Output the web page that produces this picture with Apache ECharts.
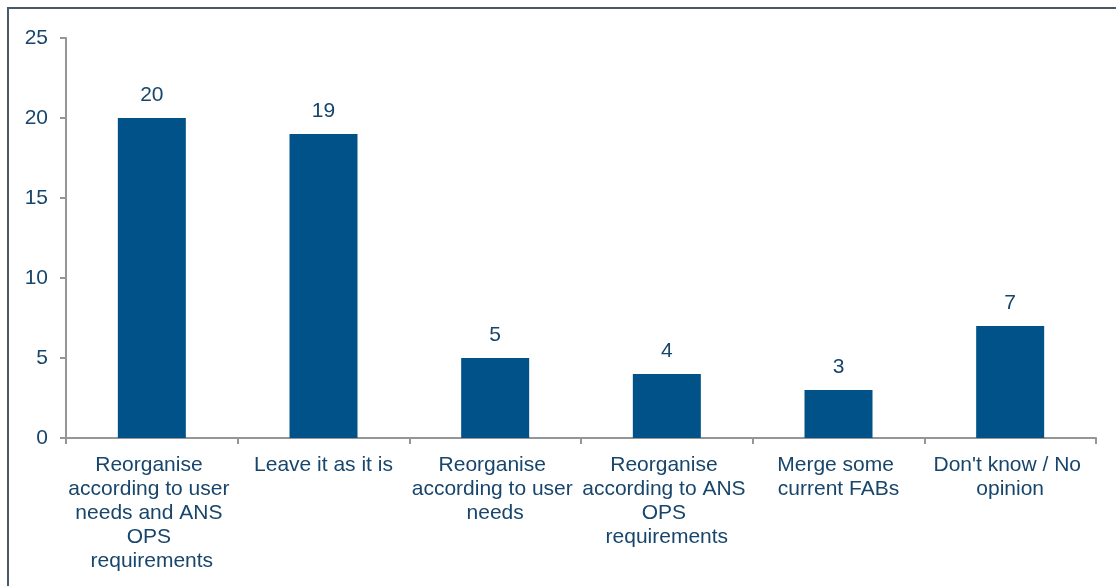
<!DOCTYPE html>
<html>
<head>
<meta charset="utf-8">
<script src="https://cdn.jsdelivr.net/npm/echarts@6/dist/echarts.min.js"></script>
<style>
html,body{margin:0;padding:0;background:#fff;}
#wrap{position:relative;width:1116px;height:586px;overflow:hidden;}
#frame{position:absolute;left:7px;top:7px;width:1200px;height:700px;border-left:2px solid #4b5866;border-top:2px solid #4b5866;box-sizing:border-box;}
#chart{position:absolute;left:0;top:0;width:1116px;height:586px;}
</style>
</head>
<body>
<div id="wrap">
<div id="frame"></div>
<div id="chart"></div>
</div>
<script>
const categories = [
  "Reorganise according to user needs and ANS OPS requirements",
  "Leave it as it is",
  "Reorganise according to user needs",
  "Reorganise according to ANS OPS requirements",
  "Merge some current FABs",
  "Don't know / No opinion"
];
const values = [20, 19, 5, 4, 3, 7];
const yTicks = { min: 0, max: 25, interval: 5 };

const textColor = '#17456b';
const axisColor = '#969696';
const font = 'Arial, "Liberation Sans", sans-serif';

const chart = echarts.init(document.getElementById('chart'), null, {renderer: 'canvas'});
chart.setOption({
  animation: false,
  backgroundColor: 'transparent',
  grid: { left: 66, right: 20, top: 38, bottom: 148, containLabel: false },
  xAxis: {
    type: 'category',
    data: categories,
    axisLine: { show: true, lineStyle: { color: axisColor, width: 2 } },
    axisTick: { show: true, length: 6, lineStyle: { color: axisColor, width: 2 } },
    axisLabel: {
      interval: 0,
      color: textColor,
      fontFamily: font,
      fontSize: 21,
      lineHeight: 24,
      margin: 15,
      width: 170,
      overflow: 'break'
    },
    splitLine: { show: false }
  },
  yAxis: {
    type: 'value',
    min: yTicks.min,
    max: yTicks.max,
    interval: yTicks.interval,
    axisLine: { show: true, lineStyle: { color: axisColor, width: 2 } },
    axisTick: { show: true, length: 6, lineStyle: { color: axisColor, width: 2 } },
    axisLabel: { color: textColor, fontFamily: font, fontSize: 21, margin: 18 },
    splitLine: { show: false }
  },
  series: [{
    type: 'bar',
    data: values,
    barWidth: 68,
    itemStyle: { color: '#005288' },
    label: {
      show: true,
      position: 'top',
      distance: 12,
      color: textColor,
      fontFamily: font,
      fontSize: 21
    }
  }]
});
</script>
</body>
</html>
